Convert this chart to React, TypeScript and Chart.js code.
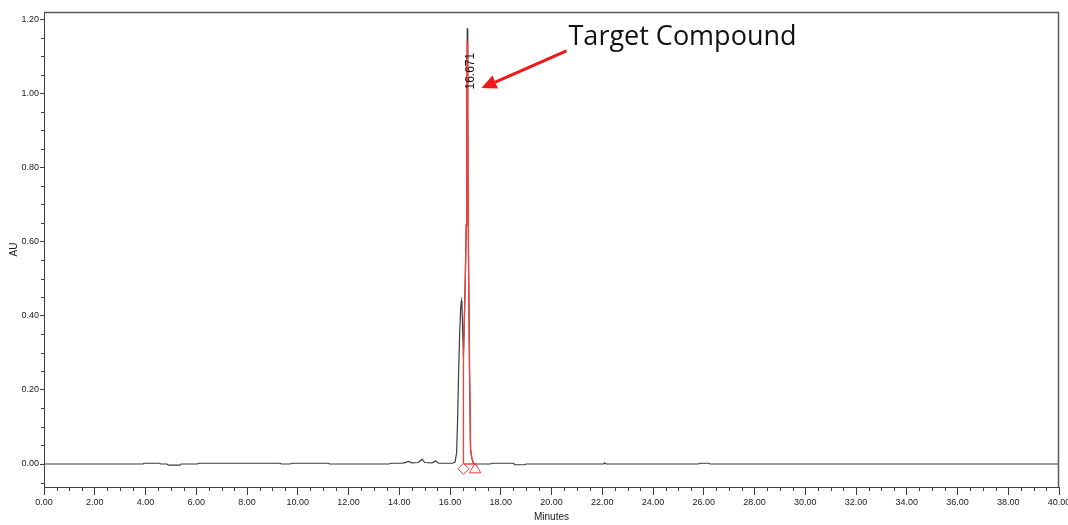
import React, { useEffect, useRef } from 'react';
import { Chart, registerables } from 'chart.js';

Chart.register(...registerables);

// ---- data (minutes / AU) ----
const traceTime = [
  0, 3.9, 3.95, 4.55, 4.6, 4.85, 4.9, 5.35, 5.4, 6.05,
  6.1, 9.3, 9.35, 9.7, 9.75, 11.2, 11.25, 13.6, 13.7, 14.05,
  14.2, 14.36, 14.5, 14.75, 14.9, 15.0, 15.3, 15.43, 15.55, 16.1,
  16.2, 16.26, 16.3, 16.34, 16.38, 16.42, 16.45, 16.47, 16.5, 16.53,
  16.6, 16.64, 16.665, 16.68, 16.7, 16.73, 16.77, 16.81, 16.86, 16.92,
  16.97, 17.1, 17.6, 17.65, 18.5, 18.55, 18.95, 19.0, 22.05, 22.1,
  22.15, 25.8, 25.85, 26.2, 26.25, 40,
];
const traceAU = [
  0, 0, 0.002, 0.002, 0, 0, -0.003, -0.003, 0, 0,
  0.002, 0.002, 0, 0, 0.002, 0.002, 0, 0, 0.002, 0.002,
  0.003, 0.007, 0.003, 0.004, 0.013, 0.004, 0.003, 0.008, 0.002, 0.002,
  0.005, 0.03, 0.12, 0.25, 0.35, 0.42, 0.44, 0.43, 0.36, 0.29,
  0.49, 0.645, 0.95, 1.175, 0.95, 0.55, 0.25, 0.04, 0.015, 0.003,
  0, 0, 0, 0.002, 0.002, -0.002, -0.002, 0, 0, 0.003,
  0, 0, 0.002, 0.002, 0, 0,
];
const peakTime = [16.53, 16.53, 16.6, 16.64, 16.665, 16.68, 16.7, 16.73, 16.77, 16.81, 16.86, 16.92, 16.97, 16.53];
const peakAU = [0, 0.29, 0.49, 0.645, 0.95, 1.14, 0.95, 0.55, 0.25, 0.04, 0.015, 0.003, 0, 0];
const markerTime = [16.53, 16.99];
const markerAU = [-0.013, -0.015];
const markerStyles = ['rectRot', 'triangle'];
const markerSizes = [5.5, 6.5];

const xTicks = [0, 2, 4, 6, 8, 10, 12, 14, 16, 18, 20, 22, 24, 26, 28, 30, 32, 34, 36, 38, 40];
const yTicks = [0, 0.2, 0.4, 0.6, 0.8, 1.0, 1.2];

const peakLabel = '16.671';
const peakLabelTime = 16.68;
const peakLabelAU = 1.01;

const noteText = 'Target Compound';
const noteTime = 20.67;
const noteAU = 1.13;
const arrowTail = { x: 20.59, y: 1.114 };
const arrowTip = { x: 17.24, y: 1.014 };

const decor = {
  id: 'decor',
  afterDraw(chart: any) {
    const { ctx, chartArea: a, scales } = chart;
    const x = scales.x;
    const y = scales.y;
    ctx.save();
    // box top/right
    ctx.strokeStyle = '#5a5a5a';
    ctx.lineWidth = 1.5;
    ctx.beginPath();
    ctx.moveTo(a.left, a.top + 0.5);
    ctx.lineTo(a.right - 0.5, a.top + 0.5);
    ctx.lineTo(a.right - 0.5, a.bottom);
    ctx.stroke();
    // minor ticks
    ctx.strokeStyle = '#404040';
    ctx.lineWidth = 1;
    ctx.beginPath();
    for (let i = 0; i <= 80; i++) {
      if (i % 4 === 0) continue;
      const px = Math.round(x.getPixelForValue(i * 0.5)) + 0.5;
      ctx.moveTo(px, a.bottom);
      ctx.lineTo(px, a.bottom + 4);
    }
    for (let i = -1; i <= 24; i++) {
      if (i % 4 === 0) continue;
      const py = Math.round(y.getPixelForValue(i * 0.05)) + 0.5;
      ctx.moveTo(a.left, py);
      ctx.lineTo(a.left - 3, py);
    }
    ctx.stroke();

    // peak label
    const lx = x.getPixelForValue(peakLabelTime) + 3;
    const ly = y.getPixelForValue(peakLabelAU);
    ctx.save();
    ctx.translate(lx, ly);
    ctx.rotate(-Math.PI / 2);
    ctx.fillStyle = '#111';
    ctx.font = '12px "Liberation Sans", Arial, sans-serif';
    ctx.textAlign = 'left';
    ctx.textBaseline = 'middle';
    ctx.fillText(peakLabel, 0, 0);
    ctx.restore();

    // annotation text
    ctx.fillStyle = '#111';
    ctx.font = '27px "Open Sans", sans-serif';
    ctx.textAlign = 'left';
    ctx.textBaseline = 'alphabetic';
    ctx.fillText(noteText, x.getPixelForValue(noteTime), y.getPixelForValue(noteAU));

    // arrow
    const tx = x.getPixelForValue(arrowTail.x);
    const ty = y.getPixelForValue(arrowTail.y);
    const hx = x.getPixelForValue(arrowTip.x);
    const hy = y.getPixelForValue(arrowTip.y);
    const ang = Math.atan2(hy - ty, hx - tx);
    const headLen = 15;
    const headW = 7;
    const bx = hx - headLen * Math.cos(ang);
    const by = hy - headLen * Math.sin(ang);
    ctx.strokeStyle = '#f01818';
    ctx.fillStyle = '#f01818';
    ctx.lineWidth = 3;
    ctx.beginPath();
    ctx.moveTo(tx, ty);
    ctx.lineTo(bx, by);
    ctx.stroke();
    ctx.beginPath();
    ctx.moveTo(hx, hy);
    ctx.lineTo(bx + headW * Math.sin(ang), by - headW * Math.cos(ang));
    ctx.lineTo(bx - headW * Math.sin(ang), by + headW * Math.cos(ang));
    ctx.closePath();
    ctx.fill();
    ctx.restore();
  },
};

export default function App() {
  const ref = useRef<HTMLCanvasElement>(null);
  useEffect(() => {
    if (!ref.current) return;
    const tickFont = { family: '"Liberation Sans", Arial, sans-serif', size: 9 };
    const chart = new Chart(ref.current, {
      type: 'line',
      data: {
        datasets: [
          {
            label: 'peak',
            data: peakTime.map((t, i) => ({ x: t, y: peakAU[i] })),
            borderColor: '#ff3c3c',
            borderWidth: 1.3,
            pointRadius: 0,
            fill: false,
            tension: 0,
            order: 0,
          },
          {
            label: 'markers',
            data: markerTime.map((t, i) => ({ x: t, y: markerAU[i] })),
            showLine: false,
            pointStyle: markerStyles as any,
            pointRadius: markerSizes,
            borderColor: '#ff3c3c',
            backgroundColor: 'rgba(0,0,0,0)',
            pointBorderWidth: 1,
            order: 0,
          } as any,
          {
            label: 'trace',
            data: traceTime.map((t, i) => ({ x: t, y: traceAU[i] })),
            borderColor: '#3c3c3c',
            borderWidth: 1.2,
            pointRadius: 0,
            fill: false,
            tension: 0,
            order: 2,
          },
        ],
      },
      options: {
        responsive: false,
        animation: false,
        events: [],
        layout: { padding: { top: 12, right: 9, left: 0, bottom: 0 } },
        plugins: { legend: { display: false }, tooltip: { enabled: false } },
        scales: {
          x: {
            type: 'linear',
            min: 0,
            max: 40,
            afterBuildTicks: (s: any) => { s.ticks = xTicks.map((v) => ({ value: v })); },
            afterFit: (s: any) => { s.height = 38; s.paddingLeft = 0; s.paddingRight = 0; },
            ticks: {
              autoSkip: false,
              maxRotation: 0,
              padding: 2,
              color: '#1a1a1a',
              font: tickFont,
              callback: (v: any) => Number(v).toFixed(2),
            },
            grid: { drawOnChartArea: false, drawTicks: true, tickLength: 8, color: '#404040' },
            border: { display: true, color: '#404040', width: 1 },
            title: { display: true, text: 'Minutes', color: '#1a1a1a', font: { family: '"Liberation Sans", Arial, sans-serif', size: 10 }, padding: { top: 0, bottom: 2 } },
          },
          y: {
            type: 'linear',
            min: -0.062,
            max: 1.219,
            afterBuildTicks: (s: any) => { s.ticks = yTicks.map((v) => ({ value: v })); },
            afterFit: (s: any) => { s.width = 44; s.paddingTop = 0; s.paddingBottom = 0; },
            ticks: {
              padding: 1,
              color: '#1a1a1a',
              font: tickFont,
              callback: (v: any) => Number(v).toFixed(2),
            },
            grid: { drawOnChartArea: false, drawTicks: true, tickLength: 4, color: '#404040' },
            border: { display: true, color: '#404040', width: 1 },
            title: { display: true, text: 'AU', color: '#1a1a1a', font: { family: '"Liberation Sans", Arial, sans-serif', size: 10 }, padding: { top: 8, bottom: 0 } },
          },
        },
      },
      plugins: [decor],
    });
    return () => chart.destroy();
  }, []);
  return (
    <div style={{ position: 'fixed', left: 0, top: 0, width: 1068, height: 525, background: '#fff' }}>
      <canvas ref={ref} width={1068} height={525} style={{ display: 'block', width: 1068, height: 525 }} />
    </div>
  );
}
